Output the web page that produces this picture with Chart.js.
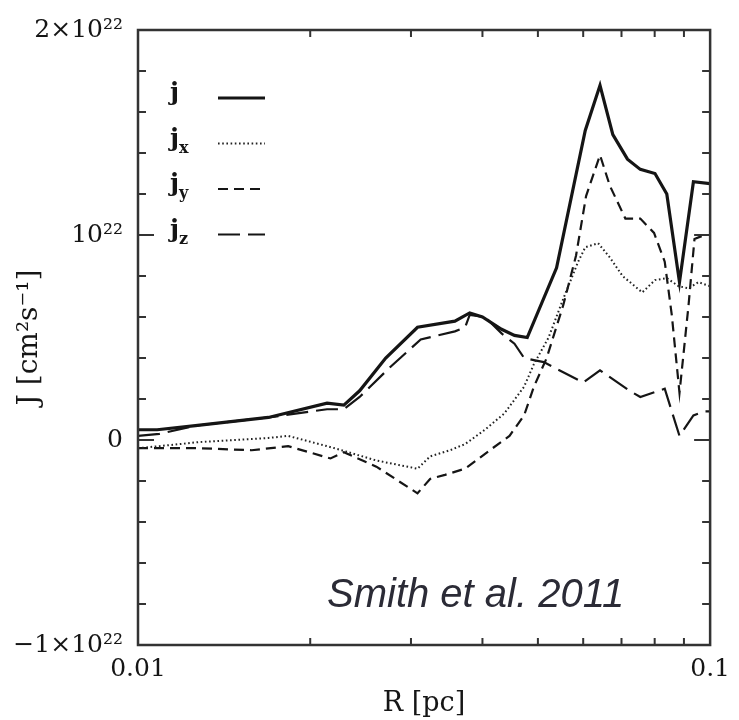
<!DOCTYPE html>
<html>
<head>
<meta charset="utf-8">
<title>J vs R - Smith et al. 2011</title>
<script src="https://cdn.jsdelivr.net/npm/chart.js@4.4.1/dist/chart.umd.min.js"></script>
<style>
    html, body { margin: 0; padding: 0; background: #fff; }
    #wrap { width: 739px; height: 720px; }
</style>
</head>
<body>
<div id="wrap"><canvas id="jChart" width="739" height="720"></canvas></div>
<script>
// R in pc, J in units of 1e22 cm^2 s^-1
const R_J = [0.0100, 0.0108, 0.0126, 0.0169, 0.0214, 0.0229, 0.0244, 0.0271, 0.0308, 0.0358, 0.0380, 0.0400, 0.0432, 0.0455, 0.0479, 0.0539, 0.0605, 0.0642, 0.0676, 0.0717, 0.0755, 0.0801, 0.0840, 0.0884, 0.0935, 0.1000];
const J_TOT = [0.05, 0.05, 0.07, 0.11, 0.18, 0.17, 0.24, 0.40, 0.55, 0.58, 0.62, 0.60, 0.54, 0.51, 0.50, 0.84, 1.51, 1.73, 1.49, 1.37, 1.32, 1.30, 1.20, 0.77, 1.26, 1.25];

const R_X = [0.0100, 0.0109, 0.0128, 0.0169, 0.0183, 0.0214, 0.0227, 0.0261, 0.0308, 0.0324, 0.0351, 0.0373, 0.0404, 0.0437, 0.0473, 0.0492, 0.0522, 0.0554, 0.0588, 0.0605, 0.0637, 0.0668, 0.0703, 0.0761, 0.0801, 0.0840, 0.0881, 0.0917, 0.0954, 0.1000];
const J_X = [-0.04, -0.03, -0.01, 0.01, 0.02, -0.03, -0.05, -0.10, -0.14, -0.08, -0.05, -0.02, 0.05, 0.13, 0.26, 0.37, 0.50, 0.69, 0.87, 0.94, 0.96, 0.89, 0.80, 0.72, 0.78, 0.79, 0.75, 0.74, 0.77, 0.75];

const R_Y = [0.0100, 0.0128, 0.0158, 0.0183, 0.0217, 0.0229, 0.0261, 0.0308, 0.0324, 0.0344, 0.0373, 0.0412, 0.0446, 0.0473, 0.0492, 0.0518, 0.0554, 0.0583, 0.0607, 0.0642, 0.0668, 0.0711, 0.0755, 0.0798, 0.0833, 0.0857, 0.0884, 0.0917, 0.0939, 0.0977, 0.1000];
const J_Y = [-0.04, -0.04, -0.05, -0.03, -0.09, -0.06, -0.13, -0.26, -0.19, -0.17, -0.14, -0.05, 0.02, 0.12, 0.26, 0.40, 0.66, 0.90, 1.19, 1.39, 1.24, 1.08, 1.08, 1.01, 0.87, 0.61, 0.23, 0.66, 0.98, 1.00, 1.00];

const R_Z = [0.0100, 0.0109, 0.0126, 0.0169, 0.0214, 0.0229, 0.0244, 0.0277, 0.0312, 0.0358, 0.0373, 0.0380, 0.0404, 0.0432, 0.0455, 0.0473, 0.0492, 0.0512, 0.0600, 0.0642, 0.0723, 0.0755, 0.0833, 0.0884, 0.0935, 0.0977, 0.1000];
const J_Z = [0.02, 0.03, 0.07, 0.11, 0.15, 0.15, 0.21, 0.36, 0.49, 0.53, 0.55, 0.61, 0.60, 0.52, 0.47, 0.40, 0.39, 0.38, 0.28, 0.34, 0.24, 0.21, 0.25, 0.02, 0.12, 0.14, 0.14];

// axis ticks
const X_TICKS = [0.01, 0.1];
const X_MINOR = [0.02, 0.03, 0.04, 0.05, 0.06, 0.07, 0.08, 0.09];
const Y_TICKS = [-1, 0, 1, 2];
const Y_TICK_TEXT = ['\u22121\u00d710\u00b2\u00b2', '0', '10\u00b2\u00b2', '2\u00d710\u00b2\u00b2'];

const SERIF = '"DejaVu Serif", "Liberation Serif", serif';
const INK = '#151515';

function puntos(rs, js) {
    return rs.map((r, i) => ({ x: r, y: js[i] }));
}

// frame with inward ticks on all four sides
const marcoTicks = {
    id: 'marcoTicks',
    afterDatasetsDraw(chart) {
        const { ctx, chartArea: a, scales } = chart;
        const x = scales.x, y = scales.y;
        ctx.save();
        ctx.strokeStyle = '#333';
        ctx.lineWidth = 2;
        ctx.beginPath();
        X_MINOR.forEach(v => {
            const px = x.getPixelForValue(v);
            ctx.moveTo(px, a.bottom); ctx.lineTo(px, a.bottom - 7);
            ctx.moveTo(px, a.top); ctx.lineTo(px, a.top + 7);
        });
        for (let i = -5; i <= 10; i++) {
            const py = y.getPixelForValue(i / 5);
            const len = i % 5 === 0 ? 16 : 8;
            ctx.moveTo(a.left, py); ctx.lineTo(a.left + len, py);
            ctx.moveTo(a.right, py); ctx.lineTo(a.right - len, py);
        }
        ctx.stroke();
        ctx.lineWidth = 2.5;
        ctx.strokeRect(a.left, a.top, a.right - a.left, a.bottom - a.top);
        ctx.restore();
    }
};

// legend inside the plot: j, j_x, j_y, j_z with line samples
const leyenda = {
    id: 'leyenda',
    afterDatasetsDraw(chart) {
        const { ctx, chartArea: a } = chart;
        ctx.save();
        chart.data.datasets.forEach((ds, i) => {
            const yy = a.top + 68 + i * 45.5;
            ctx.strokeStyle = ds.borderColor;
            ctx.lineWidth = ds.borderWidth;
            ctx.setLineDash(ds.borderDash || []);
            ctx.beginPath();
            ctx.moveTo(a.left + 80, yy);
            ctx.lineTo(a.left + 127, yy);
            ctx.stroke();
            ctx.setLineDash([]);
            ctx.fillStyle = INK;
            ctx.textBaseline = 'alphabetic';
            ctx.textAlign = 'left';
            ctx.font = 'bold 25px ' + SERIF;
            ctx.fillText('j', a.left + 32, yy + 2);
            if (ds.sub) {
                const w = ctx.measureText('j').width;
                ctx.font = 'bold 16px ' + SERIF;
                ctx.fillText(ds.sub, a.left + 32 + w, yy + 9);
            }
        });
        ctx.restore();
    }
};

// citation text
const cita = {
    id: 'cita',
    afterDraw(chart) {
        const { ctx, chartArea: a } = chart;
        ctx.save();
        ctx.fillStyle = '#2b2b36';
        ctx.font = 'italic 40px "Liberation Sans", Arial, sans-serif';
        ctx.textBaseline = 'alphabetic';
        ctx.textAlign = 'left';
        ctx.fillText('Smith et al. 2011', a.left + 189, a.bottom - 38);
        ctx.restore();
    }
};

new Chart(document.getElementById('jChart'), {
    type: 'line',
    data: {
        datasets: [
            { label: 'j', data: puntos(R_J, J_TOT), borderColor: INK, borderWidth: 3.2 },
            { label: 'jx', sub: 'x', data: puntos(R_X, J_X), borderColor: '#222', borderWidth: 2, borderDash: [1.6, 2.6] },
            { label: 'jy', sub: 'y', data: puntos(R_Y, J_Y), borderColor: INK, borderWidth: 2.2, borderDash: [10, 6] },
            { label: 'jz', sub: 'z', data: puntos(R_Z, J_Z), borderColor: INK, borderWidth: 2.2, borderDash: [22, 8] }
        ]
    },
    options: {
        responsive: false,
        animation: false,
        layout: { padding: { top: 21, right: 20, bottom: 0, left: 0 } },
        elements: {
            point: { radius: 0 },
            line: { tension: 0, fill: false, borderCapStyle: 'butt' }
        },
        plugins: {
            legend: { display: false },
            tooltip: { enabled: false }
        },
        scales: {
            x: {
                type: 'logarithmic',
                min: 0.01,
                max: 0.1,
                afterBuildTicks: s => { s.ticks = X_TICKS.map(v => ({ value: v })); },
                afterFit: s => { s.height = 75; },
                grid: { display: false, drawTicks: false },
                border: { display: false },
                ticks: {
                    color: INK,
                    font: { family: SERIF, size: 25 },
                    padding: 9,
                    maxRotation: 0,
                    autoSkip: false,
                    callback: v => String(v)
                },
                title: {
                    display: true,
                    text: 'R [pc]',
                    color: INK,
                    font: { family: SERIF, size: 27 },
                    padding: { top: 0, bottom: 0 }
                }
            },
            y: {
                min: -1,
                max: 2,
                afterBuildTicks: s => { s.ticks = Y_TICKS.map(v => ({ value: v })); },
                afterFit: s => { s.width = 138; },
                grid: { display: false, drawTicks: false },
                border: { display: false },
                ticks: {
                    color: INK,
                    font: { family: SERIF, size: 25 },
                    padding: 15,
                    callback: v => Y_TICK_TEXT[Y_TICKS.indexOf(v)]
                },
                title: {
                    display: true,
                    text: 'J [cm\u00b2s\u207b\u00b9]',
                    color: INK,
                    font: { family: SERIF, size: 28 },
                    padding: { top: 13, bottom: 0 }
                }
            }
        }
    },
    plugins: [marcoTicks, leyenda, cita]
});
</script>
</body>
</html>
